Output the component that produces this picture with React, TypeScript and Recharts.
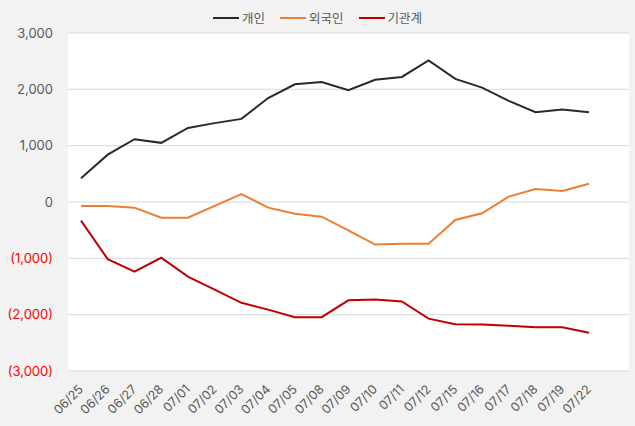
import React from "react";
import {
  LineChart,
  Line,
  XAxis,
  YAxis,
  CartesianGrid
} from "recharts";

const dates = [
  "06/25", "06/26", "06/27", "06/28", "07/01", "07/02", "07/03", "07/04", "07/05", "07/08",
  "07/09", "07/10", "07/11", "07/12", "07/15", "07/16", "07/17", "07/18", "07/19", "07/22"
];
const individual = [
  420, 840, 1115, 1050, 1315, 1400, 1475, 1845, 2090, 2130,
  1985, 2170, 2220, 2515, 2185, 2030, 1795, 1595, 1640, 1595
];
const foreign = [
  -70, -70, -100, -280, -280, -70, 140, -100, -210, -260,
  -505, -755, -740, -740, -320, -200, 95, 230, 195, 325
];
const institution = [
  -330, -1015, -1235, -990, -1325, -1555, -1790, -1910, -2045, -2045,
  -1745, -1730, -1765, -2070, -2170, -2175, -2195, -2225, -2225, -2320
];
const yTicks = [-3000, -2000, -1000, 0, 1000, 2000, 3000];

const series = [
  { key: "개인", color: "#222a35" },
  { key: "외국인", color: "#ed7d31" },
  { key: "기관계", color: "#c00000" }
];

const data = dates.map((d, i) => ({
  date: d,
  개인: individual[i],
  외국인: foreign[i],
  기관계: institution[i]
}));

const FONT = "Inter, 'Noto Sans CJK KR', sans-serif";

const fmt = (v: number) => {
  const s = Math.abs(v).toLocaleString("en-US");
  return v < 0 ? `(${s})` : s;
};

const YTick = (props: any) => {
  const { x, y, payload } = props;
  const v = payload.value as number;
  return (
    <text x={x} y={y} dy={4.5} textAnchor="end" fontSize={13} fontFamily={FONT}
      fill={v < 0 ? "#ff0000" : "#595959"}>
      {fmt(v)}
    </text>
  );
};

const XTick = (props: any) => {
  const { x, y, payload } = props;
  return (
    <g transform={`translate(${x + 3},${y + 11})`}>
      <text x={0} y={0} textAnchor="end" transform="rotate(-45)"
        fontSize={12.5} fontFamily={FONT} fill="#595959">
        {payload.value}
      </text>
    </g>
  );
};

export default function App() {
  return (
    <div style={{ position: "absolute", left: 0, top: 0, width: 635, height: 426, background: "#f2f2f2" }}>
      <div style={{
        position: "absolute", left: 0, top: 9, width: 635, display: "flex",
        justifyContent: "center", gap: 15, fontFamily: "'Noto Sans CJK KR', sans-serif",
        fontSize: 12.5, color: "#595959", lineHeight: "18px"
      }}>
        {series.map(s => (
          <div key={s.key} style={{ display: "flex", alignItems: "center" }}>
            <span style={{ display: "inline-block", width: 26, height: 2, background: s.color, marginRight: 3 }} />
            <span>{s.key}</span>
          </div>
        ))}
      </div>
      <LineChart width={635} height={426} data={data}
        margin={{ top: 33, right: 6, left: 0, bottom: 0 }}>
        <CartesianGrid vertical={false} stroke="#d9d9d9" fill="#ffffff" />
        <XAxis dataKey="date" scale="point" padding={{ left: 13, right: 40 }}
          height={55} axisLine={false} tickLine={false} interval={0} tick={<XTick />} />
        <YAxis domain={[-3000, 3000]} ticks={yTicks} width={68} axisLine={false}
          tickLine={false} tickMargin={9} tick={<YTick />} />
        {series.map(s => (
          <Line key={s.key} type="linear" dataKey={s.key} stroke={s.color} strokeWidth={2}
            dot={false} isAnimationActive={false} />
        ))}
      </LineChart>
    </div>
  );
}
